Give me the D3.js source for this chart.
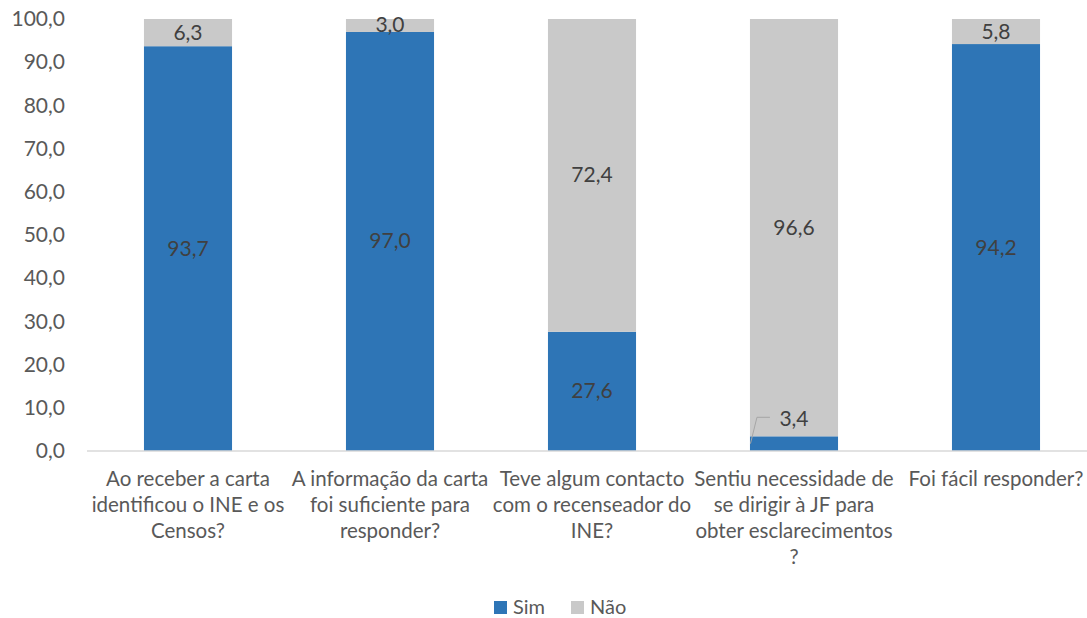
<!DOCTYPE html>
<html>
<head>
<meta charset="utf-8">
<script src="https://cdn.jsdelivr.net/npm/d3@7"></script>
<style>
  body { margin: 0; background: #fff; }
  svg text { font-family: Lato, "Open Sans", sans-serif; }
</style>
</head>
<body>
<svg id="chart" width="1087" height="618"></svg>
<script>
"use strict";

const categories = ["q1", "q2", "q3", "q4", "q5"];
const categoryLines = [
    ["Ao receber a carta", "identificou o INE e os", "Censos?"],
    ["A informação da carta", "foi suficiente para", "responder?"],
    ["Teve algum contacto", "com o recenseador do", "INE?"],
    ["Sentiu necessidade de", "se dirigir à JF para", "obter esclarecimentos", "?"],
    ["Foi fácil responder?"]
];
const sim = [93.7, 97.0, 27.6, 3.4, 94.2];
const nao = [6.3, 3.0, 72.4, 96.6, 5.8];
const yTicks = [0, 10, 20, 30, 40, 50, 60, 70, 80, 90, 100];
const seriesNames = ["Sim", "Não"];
const colors = ["#2E75B6", "#C9C9C9"];

const fmt = d3.formatLocale({ decimal: ",", thousands: " ", grouping: [3] }).format(".1f");

const svg = d3.select("#chart");

const scaleX = d3.scaleBand().domain(categories).range([87, 1097]).paddingInner(0.564).paddingOuter(0.282);
const scaleY = d3.scaleLinear().domain([0, 100]).range([451, 19]);

// y axis labels, no line
svg.append("g")
    .attr("transform", "translate(87, 0)")
    .call(d3.axisLeft(scaleY).tickValues(yTicks).tickSize(0).tickPadding(22).tickFormat(fmt))
    .call(g => g.select(".domain").remove())
    .selectAll("text")
    .attr("font-size", 21)
    .attr("fill", "#595959")
    .attr("font-family", "Lato, 'Open Sans', sans-serif");

let stacked = categories.map((c, i) => ({ c: c, i: i, parts: [
    { s: 0, y0: 0, y1: sim[i], v: sim[i] },
    { s: 1, y0: sim[i], y1: sim[i] + nao[i], v: nao[i] }
] }));

let groups = svg.append("g").selectAll("g.bar")
    .data(stacked)
    .enter().append("g")
    .attr("class", "bar");

groups.selectAll("rect")
    .data(d => d.parts.map(p => Object.assign({ c: d.c }, p)))
    .enter().append("rect")
    .attr("x", d => scaleX(d.c))
    .attr("width", scaleX.bandwidth())
    .attr("y", d => scaleY(d.y1))
    .attr("height", d => scaleY(d.y0) - scaleY(d.y1))
    .attr("fill", d => colors[d.s]);

// axis baseline
svg.append("line")
    .attr("x1", 87).attr("x2", 1087)
    .attr("y1", scaleY(0)).attr("y2", scaleY(0))
    .attr("stroke", "#D9D9D9").attr("stroke-width", 1.5);

const small = d => d.s === 0 && scaleY(d.y0) - scaleY(d.y1) < 20;

// data labels
groups.selectAll("text.val")
    .data(d => d.parts.map(p => Object.assign({ c: d.c }, p)))
    .enter().append("text")
    .attr("class", "val")
    .attr("x", d => scaleX(d.c) + scaleX.bandwidth() / 2)
    .attr("y", d => {
        if (small(d)) return scaleY(d.y1) - 10;
        return (scaleY(d.y0) + scaleY(d.y1)) / 2 + 7;
    })
    .attr("text-anchor", "middle")
    .attr("font-size", 21)
    .attr("fill", "#404040")
    .text(d => fmt(d.v));

// leader line for small segment
stacked.forEach(d => {
    let p = Object.assign({ c: d.c }, d.parts[0]);
    if (small(p)) {
        let x0 = scaleX(d.c);
        let mid = (scaleY(p.y0) + scaleY(p.y1)) / 2;
        svg.append("polyline")
            .attr("points", [[x0 + 0.5, mid], [x0 + 7, scaleY(p.y1) - 19], [x0 + 20, scaleY(p.y1) - 19]].map(q => q.join(",")).join(" "))
            .attr("fill", "none")
            .attr("stroke", "#A6A6A6")
            .attr("stroke-width", 1);
    }
});

// category labels
let cat = svg.append("g").selectAll("text.cat")
    .data(categories)
    .enter().append("text")
    .attr("class", "cat")
    .attr("x", d => scaleX(d) + scaleX.bandwidth() / 2)
    .attr("y", 486)
    .attr("text-anchor", "middle")
    .attr("font-size", 20.5)
    .attr("fill", "#595959");

cat.selectAll("tspan")
    .data((d, i) => categoryLines[i])
    .enter().append("tspan")
    .attr("x", function() { return d3.select(this.parentNode).attr("x"); })
    .attr("dy", (d, i) => i === 0 ? 0 : 26)
    .text(d => d);

// legend
let legend = svg.append("g").attr("transform", "translate(494, 601)");
let item = legend.selectAll("g")
    .data(seriesNames)
    .enter().append("g")
    .attr("transform", (d, i) => `translate(${i * 77}, 0)`);
item.append("rect")
    .attr("width", 13).attr("height", 13)
    .attr("fill", (d, i) => colors[i]);
item.append("text")
    .attr("x", 19).attr("y", 13)
    .attr("font-size", 20)
    .attr("fill", "#595959")
    .text(d => d);
</script>
</body>
</html>
